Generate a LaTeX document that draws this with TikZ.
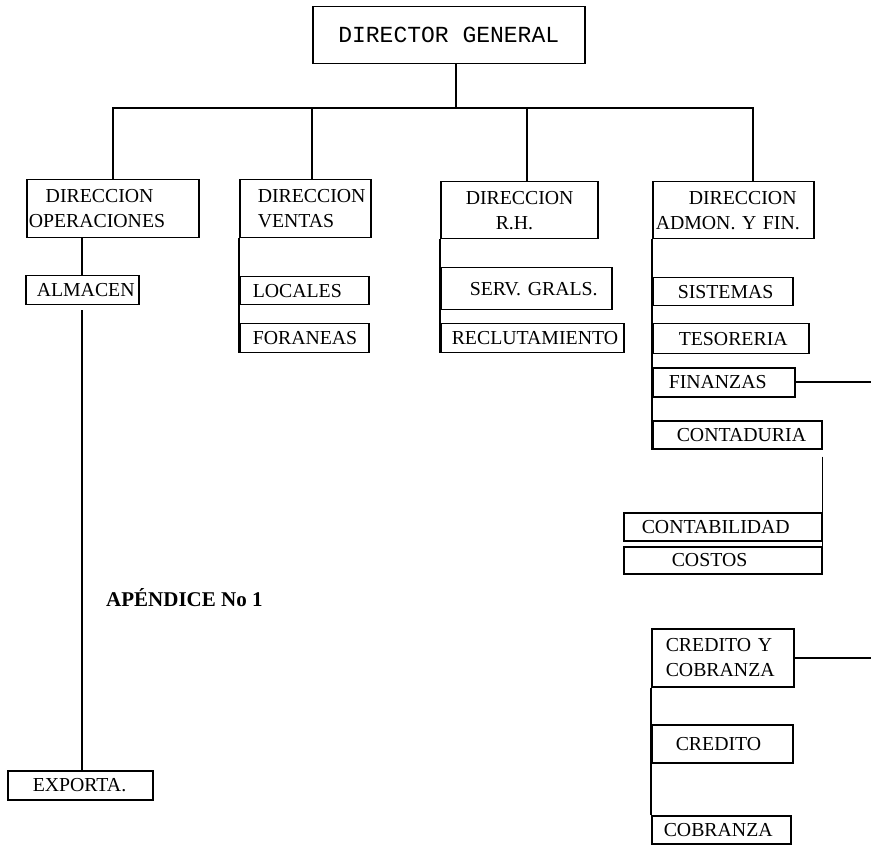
\documentclass[tikz,border=0pt]{standalone}
\usepackage{fontspec}
\setmainfont{Liberation Serif}
\newfontfamily\monofam{Liberation Mono}
\newcommand\tline[2]{\mbox{\kern#1pt #2}}
\tikzset{
  bx/.style n args={2}{draw, line width=1.5pt, anchor=north west, inner xsep=0pt, inner ysep=0pt,
    text width=#1pt, minimum height=#2pt, align=left,
    font=\fontsize{19.8}{25}\selectfont},
  conn/.style={line width=1.6pt},
}
\begin{document}
\begin{tikzpicture}[x=1pt,y=-1pt]
\useasboundingbox (0,0) rectangle (871,845);
% top
\node[draw, line width=1.5pt, anchor=north west, minimum width=272pt, minimum height=57pt, inner sep=0pt,
  font=\monofam\fontsize{23}{26}\selectfont] (dg) at (312,6) {DIRECTOR GENERAL};
% directions
\node[bx={172}{58}] (ops) at (26,179) {\tline{19}{DIRECCION}\\\tline{2}{OPERACIONES}};
\node[bx={131}{58}] (ven) at (239,179) {\tline{18}{DIRECCION}\\\tline{18}{VENTAS}};
\node[bx={157}{57}] (rh) at (440,181) {\tline{25}{DIRECCION}\\\tline{55}{R.H.}};
\node[bx={161}{57}] (adm) at (652,181) {\tline{36}{DIRECCION}\\\tline{3}{ADMON. Y FIN.}};
% sub boxes
\node[bx={113}{29}] (alm) at (25,275) {\tline{11}{ALMACEN}};
\node[bx={129}{28}] (loc) at (239,276) {\tline{13}{LOCALES}};
\node[bx={129}{29}] (for) at (239,323) {\tline{13}{FORANEAS}};
\node[bx={171}{42}] (srv) at (440,267) {\tline{29}{SERV. GRALS.}};
\node[bx={183}{29}] (rec) at (440,323) {\tline{11}{RECLUTAMIENTO}};
\node[bx={140}{28}] (sis) at (652,277) {\tline{25}{SISTEMAS}};
\node[bx={156}{30}] (tes) at (652,323) {\tline{26}{TESORERIA}};
\node[bx={142}{29}] (fin) at (652,367) {\tline{16}{FINANZAS}};
\node[bx={169}{28}] (cont) at (652,420) {\tline{24}{CONTADURIA}};
\node[bx={198}{28}] (ctb) at (623,512) {\tline{18}{CONTABILIDAD}};
\node[bx={198}{27}] (cos) at (623,546) {\tline{48}{COSTOS}};
\node[bx={142}{58}] (cyc) at (651,628) {\tline{14}{CREDITO Y}\\\tline{14}{COBRANZA}};
\node[bx={141}{38}] (cre) at (651,724) {\tline{24}{CREDITO}};
\node[bx={139}{28}] (cob) at (651,815) {\tline{12}{COBRANZA}};
\node[bx={145}{29}] (exp) at (7,770) {\tline{25}{EXPORTA.}};
% title
\node[anchor=west, inner sep=0pt, font=\bfseries\fontsize{21}{24}\selectfont] (apx) at (106,598) {APÉNDICE No 1};
% connectors
\coordinate (j) at (456,108);
\coordinate (br) at (753,108);
\coordinate (v1) at (312,108);
\coordinate (v2) at (527,108);
\coordinate (oa) at (82,0);
\coordinate (fe) at (871,382);
\coordinate (ce) at (871,657);
\draw[conn] (j |- dg.south) -- (j);
\draw[conn] (ops.north) |- (br) -- (br |- adm.north);
\draw[conn] (v1) -- (v1 |- ven.north);
\draw[conn] (v2) -- (v2 |- rh.north);
\draw[conn] (oa |- ops.south) -- (oa |- alm.north);
\draw[conn] ([yshift=-5pt]oa |- alm.south) -- (oa |- exp.north);
\draw[conn] (ven.south west) -- (for.south west);
\draw[conn] (rh.south west) -- (rec.south west);
\draw[conn] (adm.south west) -- (cont.south west);
\draw[conn] (fin.east) -- (fin.east -| fe);
\draw[conn] ([yshift=-7pt]cont.south east) -- (cos.north east);
\draw[conn] (cyc.east) -- (cyc.east -| ce);
\draw[conn] (cyc.south west) -- (cob.north west);
\end{tikzpicture}
\end{document}
